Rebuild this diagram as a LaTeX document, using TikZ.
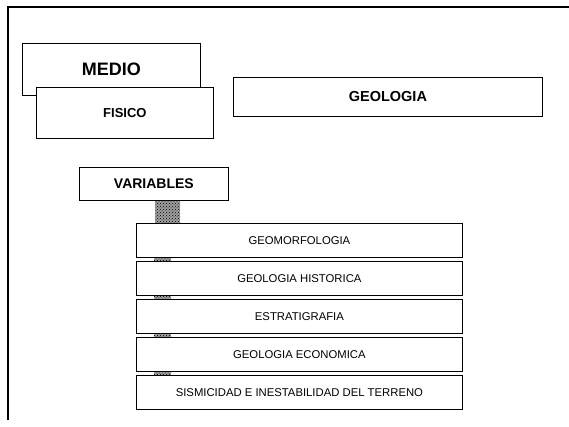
\documentclass[tikz,border=0pt]{standalone}
\usepackage{fontspec}
\setmainfont{Liberation Sans}
\usetikzlibrary{patterns}

\tikzset{
  box/.style={draw, fill=white, line width=0.8pt, rectangle, inner sep=0pt, anchor=north west},
  item/.style={box, minimum width=326pt, minimum height=34pt, font=\fontsize{11.3}{13}\selectfont},
  link/.style={fill=gray!75, postaction={pattern=crosshatch dots, pattern color=black}},
}

\begin{document}
\begin{tikzpicture}[x=1pt,y=-1pt]
\useasboundingbox (0,0) rectangle (569,427);
% frame of the sheet
\draw[line width=1.8pt] (8,420) -- (8,7) -- (569,7);
% title boxes
\node[box, minimum width=178pt, minimum height=52pt, font=\fontsize{18}{20}\bfseries] (medio) at (22,43) {MEDIO};
\node[box, minimum width=177pt, minimum height=51pt, font=\fontsize{13}{15}\bfseries] (fisico) at (36,87) {FISICO};
\node[box, minimum width=309pt, minimum height=39pt, font=\fontsize{14.5}{16}\bfseries] (geologia) at (233,77) {GEOLOGIA};
\node[box, minimum width=149pt, minimum height=33pt, font=\fontsize{14}{16}\bfseries] (vars) at (79,167) {VARIABLES};
% list of variables
\node[item] (geomorf) at (136,223) {GEOMORFOLOGIA};
\node[item] (historica) at (136,261) {GEOLOGIA HISTORICA};
\node[item] (estrat) at (136,299) {ESTRATIGRAFIA};
\node[item] (economica) at (136,337) {GEOLOGIA ECONOMICA};
\node[item] (sismo) at (136,375) {SISMICIDAD E INESTABILIDAD DEL TERRENO};
% links
\fill[link] ([xshift=1.5pt]vars.south) rectangle (180,0 |- geomorf.north);
\fill[link] ([xshift=18pt]geomorf.south west) rectangle ([xshift=35pt]historica.north west);
\fill[link] ([xshift=18pt]historica.south west) rectangle ([xshift=35pt]estrat.north west);
\fill[link] ([xshift=18pt]estrat.south west) rectangle ([xshift=35pt]economica.north west);
\fill[link] ([xshift=18pt]economica.south west) rectangle ([xshift=35pt]sismo.north west);
\end{tikzpicture}
\end{document}
